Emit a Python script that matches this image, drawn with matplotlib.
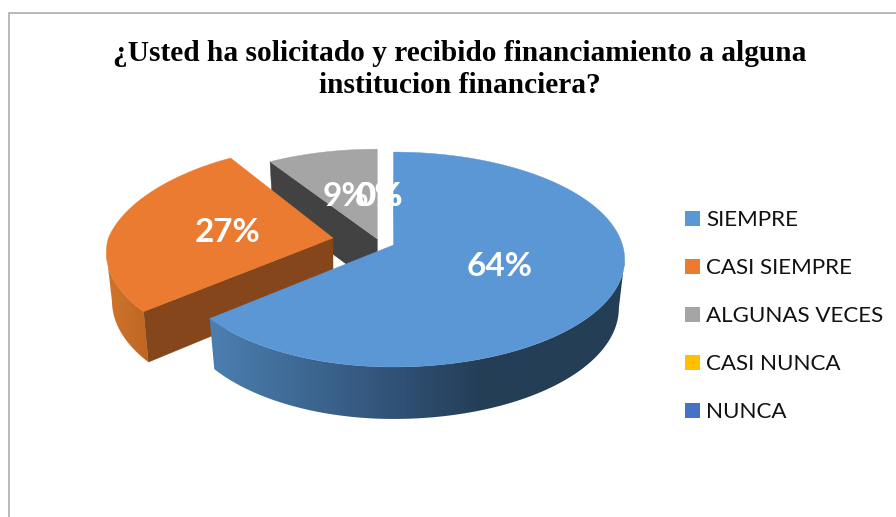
import numpy as np
import matplotlib
matplotlib.use("Agg")
import matplotlib.pyplot as plt
from matplotlib.patches import Patch, Polygon
from matplotlib.colors import LinearSegmentedColormap

# ---- data ----
categories = ["SIEMPRE", "CASI SIEMPRE", "ALGUNAS VECES", "CASI NUNCA", "NUNCA"]
values = [64, 27, 9, 0, 0]
labels = ["64%", "27%", "9%", "0%", "0%"]
colors = ["#5B97D5", "#EA7B30", "#A5A5A5", "#FFC000", "#4472C4"]
title = "¿Usted ha solicitado y recibido financiamiento a alguna\ninstitucion financiera?"

# ---- layout (pixel space of the picture, perspective model of each exploded slice) ----
W, H = 896, 517
K = 0.135
DEPTH = 48
FRONT_EXTRA = 4
SHRINK = 0.975
# apex x, apex y, rx left, rx right, ry, taper of rx towards the back
slice_geo = [(393.5, 245, 218, 229, 105.5, 0),
             (333, 238, 224.6, 224.6, 105.5, 14),
             (377.3, 239, 223, 223, 102, 0)]
label_xy = [(500, 267), (228, 233), (346, 197), (378, 197), (379, 197)]
cut_color = {1: "#84461A", 2: "#424242"}

fig = plt.figure(figsize=(W / 100, H / 100), dpi=100, facecolor="white")
ax = fig.add_axes([0, 0, 1, 1])

ax.plot([9, 9, W], [H, 12.7, 12.7], color="#A6A6A6", lw=1.1, solid_joinstyle="miter", zorder=1)


def project(i, theta, bottom=False):
    ax_, ay_, rxl, rxr, ry, taper = slice_geo[i]
    X, Y = np.sin(theta), np.cos(theta)
    d = 1 + K * Y
    rx = np.where(X < 0, rxl, rxr) - taper * np.maximum(Y, 0)
    dx = rx * X / d
    dy = -ry * Y / d
    if bottom:
        return ax_ + SHRINK * dx, ay_ + dy + DEPTH + FRONT_EXTRA * np.maximum(-Y, 0)
    return ax_ + dx, ay_ + dy


def gradient_wall(th, i, xmin, xmax, stops, z):
    xt, yt = project(i, th)
    xb, yb = project(i, th, True)
    pts = np.column_stack([np.r_[xt, xb[::-1]], np.r_[yt, yb[::-1]]])
    clip = Polygon(pts, transform=ax.transData, fc="none", ec="none")
    ax.add_patch(clip)
    cmap = LinearSegmentedColormap.from_list("wall", stops)
    im = ax.imshow(np.linspace(0, 1, 256)[None, :], cmap=cmap, aspect="auto",
                   extent=(xmin, xmax, yb.max() + 2, yt.min() - 2), zorder=z,
                   interpolation="bilinear")
    im.set_clip_path(clip)


total = sum(values)
edges = np.concatenate([[0], np.cumsum(values)]) / total * 2 * np.pi
apexes = [(g[0], g[1]) for g in slice_geo]

# draw back to front: grey, orange, blue
for i in [2, 1, 0]:
    t0, t1 = edges[i], edges[i + 1]
    apx, apy = apexes[i]
    z = 3 + 2 - i

    if i in cut_color:
        cx, cy = project(i, t0)
        bx, by = project(i, t0, True)
        ax.add_patch(Polygon([(apx, apy), (cx, cy), (bx, by), (apx, apy + DEPTH)],
                             fc=cut_color[i], ec=cut_color[i], lw=0.3, zorder=z))

    if i == 0:
        gradient_wall(np.linspace(np.radians(97.8), t1, 200), 0, 205, 630,
                      [(0.0, "#4C80B2"), (0.47, "#2F4F73"), (0.65, "#243E56"), (1.0, "#243E56")], z)
    elif i == 1:
        gradient_wall(np.linspace(t0, np.radians(262), 80), 1, 105, 150,
                      [(0.0, "#D3762E"), (1.0, "#BC6522")], z)

    th = np.linspace(t0, t1, 200)
    xs, ys = project(i, th)
    pts = np.column_stack([np.r_[apx, xs], np.r_[apy, ys]])
    ax.add_patch(Polygon(pts, fc=colors[i], ec=colors[i], lw=0.3, zorder=z + 1))

# thin dark sliver: blue slice's first cut face seen nearly edge on
sx, sy = project(0, edges[0])
ax.plot([0.5 * (sx + apexes[0][0]) + 0.6, apexes[0][0] + 1.2],
        [0.5 * (sy + apexes[0][1]), apexes[0][1]], color="#2B4A66", lw=0.8, zorder=3)

# data labels
for txt, (x, y) in zip(labels, label_xy):
    ax.text(x, y, txt, color="white", fontsize=24, fontweight="bold", family="Lato",
            ha="center", va="center", zorder=10)

# title
ax.text(460, 69.5, title, family="Liberation Serif", fontweight="bold", fontsize=21.2,
        ha="center", va="center", linespacing=1.24, color="black", zorder=10)

# legend
handles = [Patch(facecolor=c, edgecolor="none", label=n) for c, n in zip(colors, categories)]
leg = ax.legend(handles=handles, loc="upper left", bbox_to_anchor=(685, 210.5),
                bbox_transform=ax.transData, frameon=False, borderpad=0, borderaxespad=0,
                prop={"family": "Lato", "size": 16.1}, handlelength=0.67, handleheight=0.67,
                handletextpad=0.27, labelspacing=1.25, labelcolor="#111111")

ax.set_xlim(0, W)
ax.set_ylim(H, 0)
ax.axis("off")

fig.savefig("out.png", dpi=100, facecolor="white")
